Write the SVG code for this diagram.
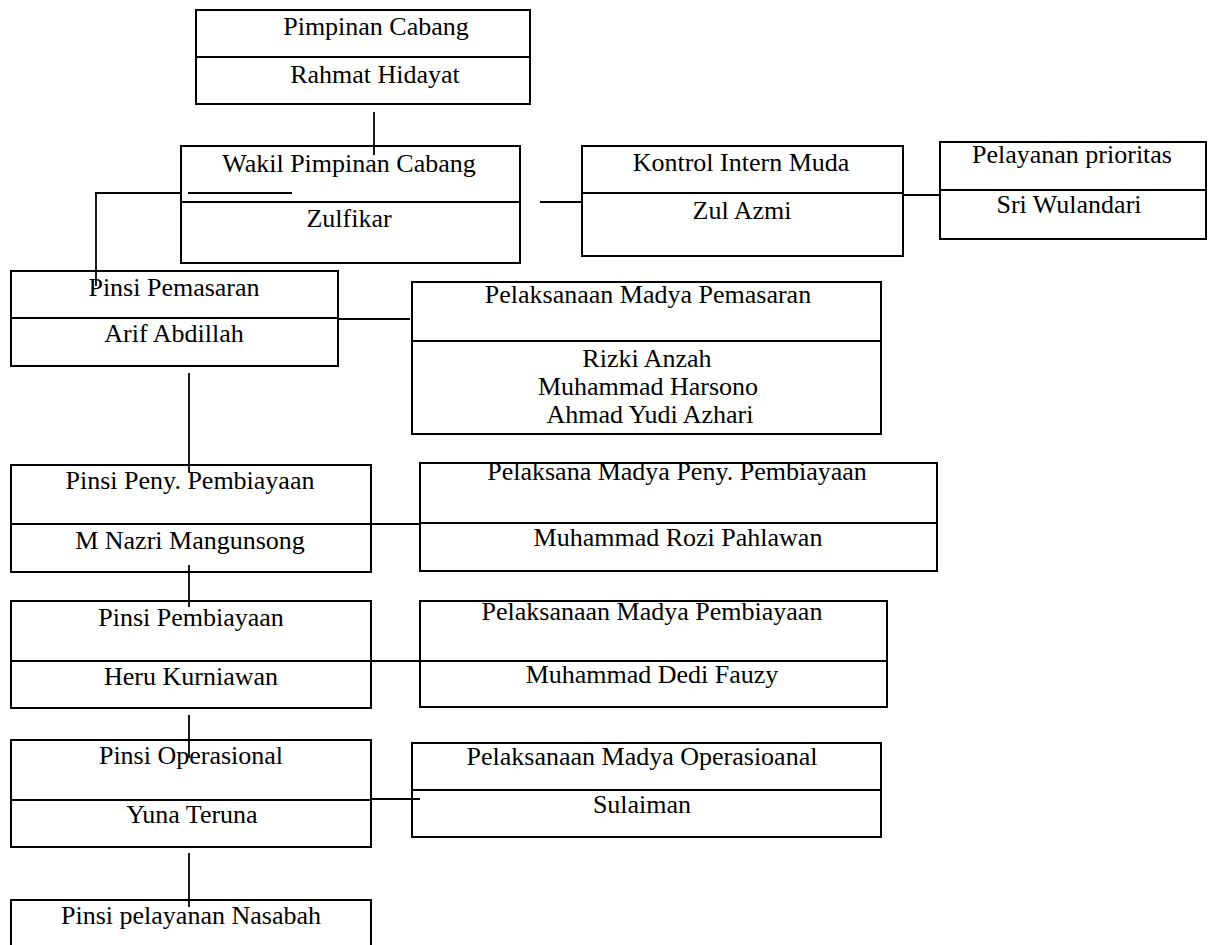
<svg xmlns="http://www.w3.org/2000/svg" width="1211" height="945" viewBox="0 0 1211 945">
<style>
.box{fill:none;stroke:#000;stroke-width:2}
.div{stroke:#000;stroke-width:2}
.con{stroke:#000;stroke-width:1.8;fill:none}
text{font-family:"Liberation Serif","Times New Roman",serif;font-size:26px;fill:#000;text-anchor:middle}
</style>
<rect width="1211" height="945" fill="#fff"/>
<g id="connectors">
<line class="con" x1="374" y1="112" x2="374" y2="155"/>
<line class="con" x1="95" y1="193" x2="181" y2="193"/>
<line class="con" x1="188" y1="193" x2="292" y2="193"/>
<line class="con" x1="96" y1="193" x2="96" y2="286"/>
<line class="con" x1="540" y1="202" x2="582" y2="202"/>
<line class="con" x1="903" y1="195" x2="940" y2="195"/>
<line class="con" x1="338" y1="319" x2="410" y2="319"/>
<line class="con" x1="189" y1="373" x2="189" y2="472"/>
<line class="con" x1="371" y1="524" x2="420" y2="524"/>
<line class="con" x1="189" y1="565" x2="189" y2="607"/>
<line class="con" x1="371" y1="661" x2="420" y2="661"/>
<line class="con" x1="189" y1="715" x2="189" y2="758"/>
<line class="con" x1="371" y1="799" x2="420" y2="799"/>
<line class="con" x1="189" y1="853" x2="189" y2="907"/>
</g>
<g id="pimpinan-cabang">
<rect class="box" x="196" y="10" width="334" height="94"/>
<line class="div" x1="196" y1="57" x2="530" y2="57"/>
<text x="376" y="35">Pimpinan Cabang</text>
<text x="375" y="83">Rahmat Hidayat</text>
</g>
<g id="wakil-pimpinan-cabang">
<rect class="box" x="181" y="146" width="339" height="117"/>
<line class="div" x1="181" y1="202" x2="520" y2="202"/>
<text x="349" y="172">Wakil Pimpinan Cabang</text>
<text x="349" y="227">Zulfikar</text>
</g>
<g id="kontrol-intern-muda">
<rect class="box" x="582" y="146" width="321" height="110"/>
<line class="div" x1="582" y1="193" x2="903" y2="193"/>
<text x="741" y="171">Kontrol Intern Muda</text>
<text x="742" y="219">Zul Azmi</text>
</g>
<g id="pelayanan-prioritas">
<rect class="box" x="940" y="142" width="266" height="97"/>
<line class="div" x1="940" y1="190" x2="1206" y2="190"/>
<text x="1072" y="163">Pelayanan prioritas</text>
<text x="1069" y="213">Sri Wulandari</text>
</g>
<g id="pinsi-pemasaran">
<rect class="box" x="11" y="271" width="327" height="95"/>
<line class="div" x1="11" y1="318" x2="338" y2="318"/>
<text x="174" y="296">Pinsi Pemasaran</text>
<text x="174" y="342">Arif Abdillah</text>
</g>
<g id="pelaksanaan-madya-pemasaran">
<rect class="box" x="412" y="282" width="469" height="152"/>
<line class="div" x1="412" y1="341" x2="881" y2="341"/>
<text x="648" y="303">Pelaksanaan Madya Pemasaran</text>
<text x="647" y="367">Rizki Anzah</text>
<text x="648" y="395">Muhammad Harsono</text>
<text x="650" y="423">Ahmad Yudi Azhari</text>
</g>
<g id="pinsi-peny-pembiayaan">
<rect class="box" x="11" y="465" width="360" height="107"/>
<line class="div" x1="11" y1="524" x2="371" y2="524"/>
<text x="190" y="489">Pinsi Peny. Pembiayaan</text>
<text x="190" y="549">M Nazri Mangunsong</text>
</g>
<g id="pelaksana-madya-peny-pembiayaan">
<rect class="box" x="420" y="463" width="517" height="108"/>
<line class="div" x1="420" y1="523" x2="937" y2="523"/>
<text x="677" y="480">Pelaksana Madya Peny. Pembiayaan</text>
<text x="678" y="546">Muhammad Rozi Pahlawan</text>
</g>
<g id="pinsi-pembiayaan">
<rect class="box" x="11" y="601" width="360" height="107"/>
<line class="div" x1="11" y1="661" x2="371" y2="661"/>
<text x="191" y="626">Pinsi Pembiayaan</text>
<text x="191" y="685">Heru Kurniawan</text>
</g>
<g id="pelaksanaan-madya-pembiayaan">
<rect class="box" x="420" y="601" width="467" height="106"/>
<line class="div" x1="420" y1="661" x2="887" y2="661"/>
<text x="652" y="620">Pelaksanaan Madya Pembiayaan</text>
<text x="652" y="683">Muhammad Dedi Fauzy</text>
</g>
<g id="pinsi-operasional">
<rect class="box" x="11" y="740" width="360" height="107"/>
<line class="div" x1="11" y1="800" x2="371" y2="800"/>
<text x="191" y="764">Pinsi Operasional</text>
<text x="192" y="823">Yuna Teruna</text>
</g>
<g id="pelaksanaan-madya-operasioanal">
<rect class="box" x="412" y="743" width="469" height="94"/>
<line class="div" x1="412" y1="790" x2="881" y2="790"/>
<text x="642" y="765">Pelaksanaan Madya Operasioanal</text>
<text x="642" y="813">Sulaiman</text>
</g>
<g id="pinsi-pelayanan-nasabah">
<rect class="box" x="11" y="900" width="360" height="60"/>
<text x="191" y="924">Pinsi pelayanan Nasabah</text>
</g>
</svg>
